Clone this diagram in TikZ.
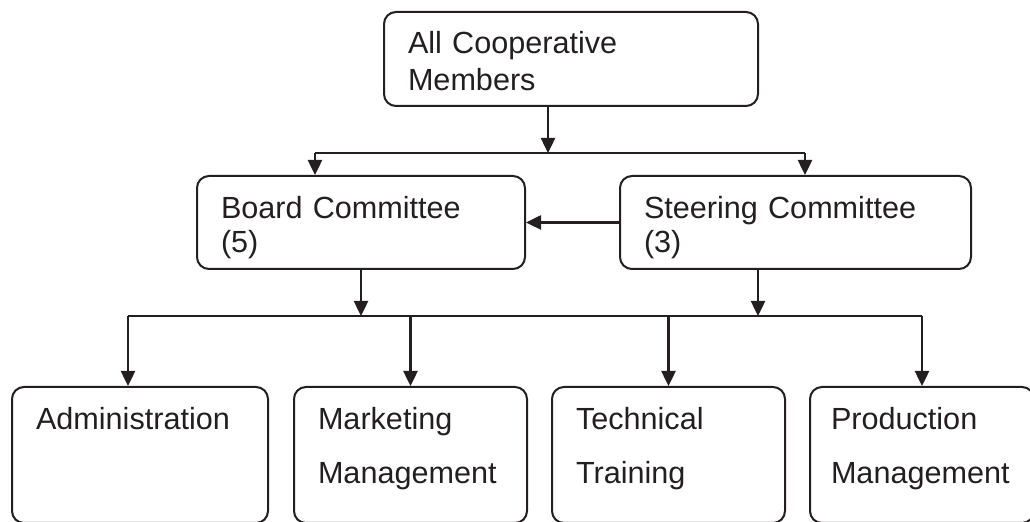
\documentclass[tikz,border=0pt]{standalone}
\usepackage{fontspec}
\setmainfont{Liberation Sans}
\usepackage{tikz}
\usetikzlibrary{positioning}
\usetikzlibrary{arrows.meta}
\definecolor{ink}{HTML}{231F20}
\tikzset{org node/.style={draw=ink,text=ink,rounded corners=6pt,line width=1pt,align=left,inner xsep=12pt,inner ysep=0pt,font=\fontsize{15.3}{17}\selectfont},
  top node/.style={org node,minimum height=47pt,text height=10.5pt,text depth=15.5pt},
  mid node/.style={org node,minimum height=46.5pt,text height=10.5pt,text depth=14pt},
  low node/.style={org node,minimum height=68pt,text height=10.5pt,text depth=36pt},
  link/.style={draw=ink,line width=1.25pt},
  link arrow/.style={link,-{Triangle[length=7.5pt,width=7pt]}},}

\begin{document}
\begin{tikzpicture}[x=1pt,y=-1pt]
\useasboundingbox (0,0) rectangle (515,261);

 \node[top node,text width=163pt] (members) at (285.5,29.5) {All Cooperative\\[1.5pt]Members};
    \node[mid node,text width=140pt] (board) at (180.5,111.25) {Board Committee\\(5)};
    \node[mid node,text width=151.5pt] (steering) [right = 46.5pt of board] {Steering Committee\\(3)};
    \node[low node,text width=104pt] (admin) at (70,227.5) {Administration};
    \node[low node,text width=92.5pt] (marketing) [right = 12pt of admin] {Marketing\\[10pt]Management};
    \node[low node,text width=92.5pt] (technical) [right = 11.5pt of marketing] {Technical\\[10pt]Training};
    \node[low node,text width=91pt,inner xsep=10.5pt] (production) [right = 11.5pt of technical] {Production\\[10pt]Management};

  % junction points on the two bars
  \coordinate (topjoin) at (274,76.5);
  \coordinate (topleft) at (157.5,76.5);
  \coordinate (topright) at (402.5,76.5);
  \coordinate (lowleft) at (64,158);
  \coordinate (lowright) at (461,158);
  \coordinate (steerjoin) at (379,158);

     \path[link]       (topleft) -- (topright);
     \path[link arrow] (members.south -| topjoin) -- (topjoin);
     \path[link arrow] (topleft) -- (topleft |- board.north);
     \path[link arrow] (topright) -- (topright |- steering.north);
     \path[link arrow] (steering.west) -- (board.east);
     \path[link]       (lowleft) -- (lowright);
     \path[link arrow] (board.south) -- (board.south |- lowleft);
     \path[link arrow] (steering.south -| steerjoin) -- (steerjoin);
     \path[link arrow] (lowleft) -- (lowleft |- admin.north);
     \path[link arrow] (marketing.north |- lowleft) -- (marketing.north);
     \path[link arrow] (technical.north |- lowleft) -- (technical.north);
     \path[link arrow] (lowright) -- (lowright |- production.north);
\end{tikzpicture}
\end{document}
